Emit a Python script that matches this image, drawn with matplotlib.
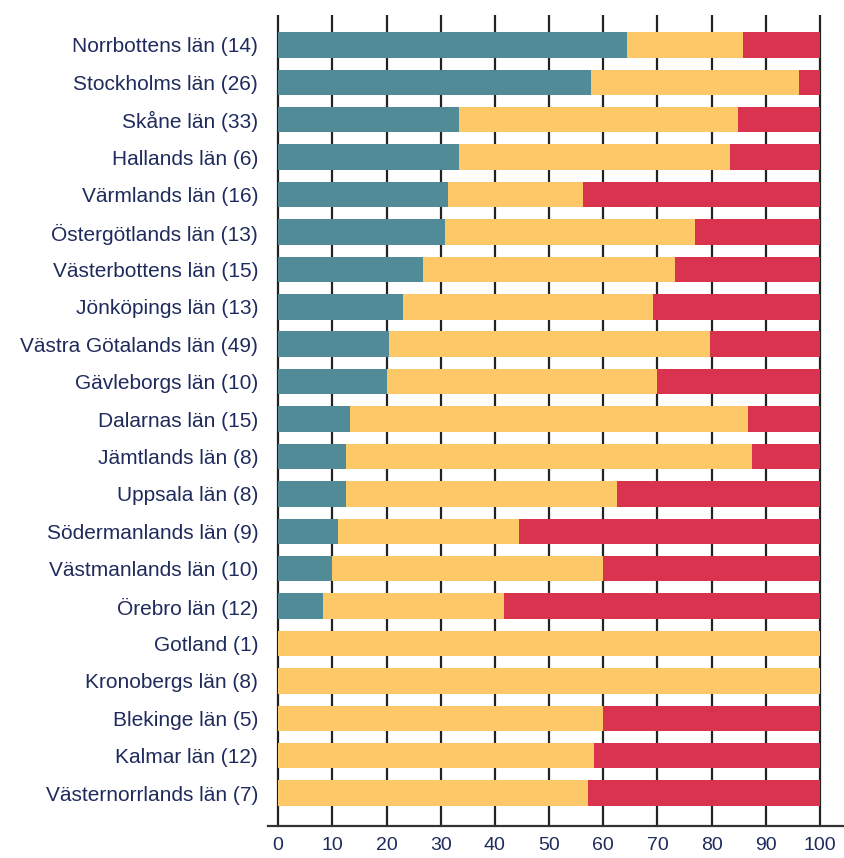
import numpy as np
import matplotlib
matplotlib.use("Agg")
import matplotlib.pyplot as plt

# Län med antal i parentes, uppifrån och ned
lan = ["Norrbottens län (14)", "Stockholms län (26)", "Skåne län (33)",
       "Hallands län (6)", "Värmlands län (16)", "Östergötlands län (13)",
       "Västerbottens län (15)", "Jönköpings län (13)", "Västra Götalands län (49)",
       "Gävleborgs län (10)", "Dalarnas län (15)", "Jämtlands län (8)",
       "Uppsala län (8)", "Södermanlands län (9)", "Västmanlands län (10)",
       "Örebro län (12)", "Gotland (1)", "Kronobergs län (8)",
       "Blekinge län (5)", "Kalmar län (12)", "Västernorrlands län (7)"]

# Andelar i procent
teal = [64.3, 57.7, 33.3, 33.3, 31.3, 30.8, 26.7, 23.1, 20.4, 20.0, 13.3,
        12.5, 12.5, 11.1, 10.0, 8.3, 0, 0, 0, 0, 0]
gul = [21.4, 38.5, 51.5, 50.0, 25.0, 46.1, 46.6, 46.1, 59.2, 50.0, 73.4,
       75.0, 50.0, 33.3, 50.0, 33.4, 100, 100, 60.0, 58.3, 57.1]
rod = [14.3, 3.8, 15.2, 16.7, 43.7, 23.1, 26.7, 30.8, 20.4, 30.0, 13.3,
       12.5, 37.5, 55.6, 40.0, 58.3, 0, 0, 40.0, 41.7, 42.9]

xticks = [0, 10, 20, 30, 40, 50, 60, 70, 80, 90, 100]

c_teal = "#528b98"
c_gul = "#fdc968"
c_rod = "#d9334f"
c_text = "#1f2b5c"

fig = plt.figure(figsize=(8.45, 8.58), dpi=100)
ax = fig.add_axes([0.317, 0.0373, 0.683, 0.9452])

y = np.arange(len(lan))
teal = np.array(teal)
gul = np.array(gul)
rod = np.array(rod)

h = 0.68
ax.barh(y, teal, height=h, color=c_teal, zorder=2)
ax.barh(y, gul, left=teal, height=h, color=c_gul, zorder=2)
ax.barh(y, rod, left=teal + gul, height=h, color=c_rod, zorder=2)

# lodräta linjer bakom staplarna
for t in xticks:
    ax.axvline(t, color="#222222", lw=1.6, zorder=1)

ax.set_xlim(-1.9, 104.6)
ax.set_ylim(len(lan) - 1 + 0.88, -0.8)

ax.set_yticks(y)
ax.set_yticklabels(lan, fontsize=15, color=c_text, family="Liberation Sans")
ax.set_xticks(xticks)
ax.set_xticklabels([str(t) for t in xticks], fontsize=14, color=c_text,
                   family="Liberation Sans")
ax.tick_params(axis="both", length=0)
ax.tick_params(axis="y", pad=7)
ax.tick_params(axis="x", pad=8)

for s in ["top", "right", "left"]:
    ax.spines[s].set_visible(False)
ax.spines["bottom"].set_color("#333333")
ax.spines["bottom"].set_linewidth(1.6)

fig.savefig("out.png", dpi=100, facecolor="white")
